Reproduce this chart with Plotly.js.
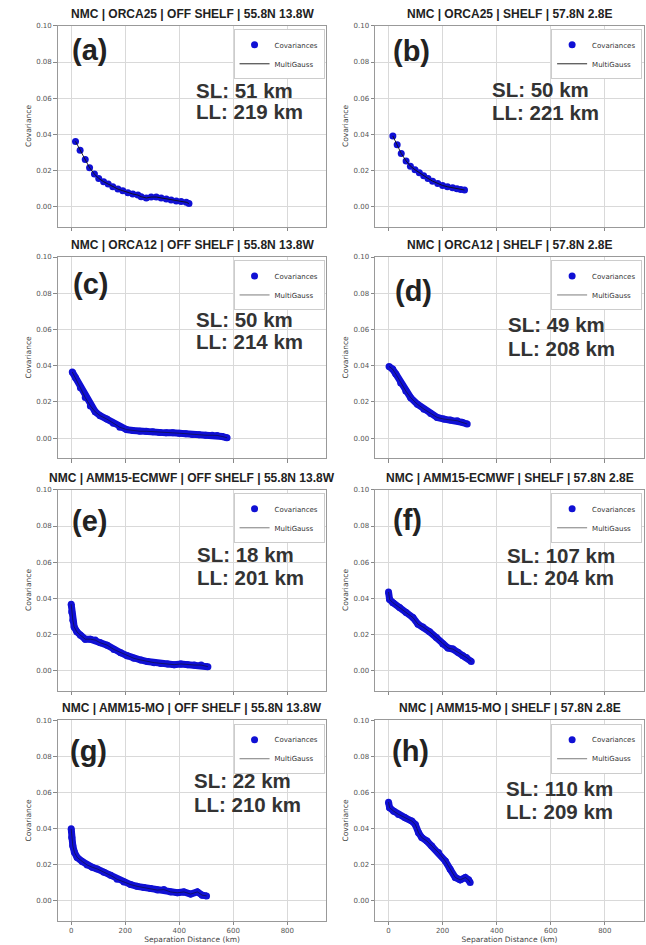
<!DOCTYPE html>
<html><head><meta charset="utf-8">
<script src="https://cdn.plot.ly/plotly-3.0.1.min.js"></script>
<style>html,body{margin:0;padding:0;background:#fff}#chart{width:646px;height:945px}</style>
</head><body><div id="chart"></div>
<script>
// ---------------- data ----------------
const panelTitles = [
  'NMC | ORCA25 | OFF SHELF | 55.8N 13.8W',
  'NMC | ORCA25 | SHELF | 57.8N 2.8E',
  'NMC | ORCA12 | OFF SHELF | 55.8N 13.8W',
  'NMC | ORCA12 | SHELF | 57.8N 2.8E',
  'NMC | AMM15-ECMWF | OFF SHELF | 55.8N 13.8W',
  'NMC | AMM15-ECMWF | SHELF | 57.8N 2.8E',
  'NMC | AMM15-MO | OFF SHELF | 55.8N 13.8W',
  'NMC | AMM15-MO | SHELF | 57.8N 2.8E'
];
const panelLabels = ['(a)','(b)','(c)','(d)','(e)','(f)','(g)','(h)'];
const slText = ['SL: 51 km','SL: 50 km','SL: 50 km','SL: 49 km','SL: 18 km','SL: 107 km','SL: 22 km','SL: 110 km'];
const llText = ['LL: 219 km','LL: 221 km','LL: 214 km','LL: 208 km','LL: 201 km','LL: 204 km','LL: 210 km','LL: 209 km'];
const xTicks = [0,200,400,600,800];
const yTicks = [0,0.02,0.04,0.06,0.08,0.10];

const distA = [16,33,52,68,86,102,120,137,154,173,191,210,228,247,259,278,296,315,333,352,370,389,407,426,436];
const covA  = [0.0361,0.0312,0.0261,0.0215,0.018,0.0156,0.0138,0.0125,0.011,0.0097,0.0088,0.0077,0.007,0.0064,0.0055,0.0048,0.0053,0.0053,0.0048,0.0042,0.0037,0.0031,0.0028,0.0024,0.0017];
const distB = [16,32,47,65,81,98,114,130,146,163,182,200,218,237,253,267,281];
const covB  = [0.0391,0.0343,0.0294,0.0253,0.0224,0.0204,0.0187,0.0171,0.0156,0.0141,0.0128,0.0117,0.011,0.0105,0.0099,0.0095,0.0092];
const distC = [4,16,34,52,71,89,107,132,156,180,205,229,254,278,302,327,351,376,400,424,449,473,498,522,540,559,577];
const covC  = [0.0365,0.0333,0.0278,0.0224,0.0178,0.0145,0.0124,0.0105,0.0082,0.006,0.0047,0.0042,0.0038,0.0038,0.0035,0.0031,0.0029,0.0029,0.0027,0.0024,0.002,0.0018,0.0016,0.0016,0.0015,0.0009,0.0002];
const distD = [2,15,27,45,64,82,107,131,156,180,205,229,254,272,291];
const covD  = [0.0396,0.0381,0.0354,0.0305,0.026,0.0223,0.0187,0.016,0.0136,0.0114,0.0105,0.01,0.0096,0.0087,0.0078];
const distE = [0,2,6,11,21,34,52,71,89,108,133,158,183,207,232,257,282,307,332,357,381,406,431,456,481,506];
const covE  = [0.0367,0.0325,0.0279,0.0242,0.0215,0.0196,0.0174,0.0174,0.0169,0.0154,0.0141,0.0117,0.0099,0.0083,0.0068,0.0059,0.005,0.0044,0.004,0.0037,0.0033,0.0037,0.0033,0.0031,0.0031,0.0022];
const distF = [0,4,16,41,65,90,109,127,152,177,201,220,238,257,275,288,306];
const covF  = [0.0435,0.0394,0.0376,0.0349,0.0321,0.0294,0.0257,0.0242,0.0215,0.0183,0.0147,0.0125,0.0119,0.0101,0.0083,0.0073,0.0051];
const distG = [0,2,6,12,22,41,59,78,96,121,146,170,195,220,244,269,294,319,343,368,393,417,442,467,485,501];
const covG  = [0.04,0.0351,0.0305,0.0269,0.0241,0.0218,0.0199,0.0186,0.0177,0.0159,0.0141,0.0119,0.0104,0.009,0.008,0.0073,0.0068,0.0059,0.0062,0.0049,0.0044,0.0049,0.0037,0.0049,0.0031,0.0027];
const distH = [0,4,19,37,62,86,99,111,123,142,160,185,210,228,247,265,284,296,302];
const covH  = [0.0548,0.0517,0.0498,0.048,0.0461,0.0443,0.0424,0.0378,0.0351,0.0332,0.0304,0.0268,0.0221,0.0175,0.0129,0.0116,0.0129,0.0116,0.0101];

// ---------------- layout config ----------------
const dists = [distA,distB,distC,distD,distE,distF,distG,distH];
const covs  = [covA,covB,covC,covD,covE,covF,covG,covH];
const dense = [false,false,true,true,true,true,true,true];
const cols = [[0.0893,0.5054],[0.5805,0.997]];
const rows = [[0.7603,0.973],[0.5153,0.7284],[0.2693,0.4820],[0.0259,0.2376]];
const labelPos = [[-6,0.0866],[10,0.0862],[0,0.085],[17,0.0813],[-4,0.083],[10,0.0835],[-12,0.0835],[6,0.083]];
const slPos = [[454,0.064,0.0527],[375,0.0648,0.0519],[455,0.0656,0.0533],[434,0.0626,0.0495],[460,0.064,0.0517],[432,0.0639,0.0514],[446,0.0667,0.0537],[428,0.0624,0.0498]];

const BLUE = '#1010d4';
const boldFont = 'Liberation Sans, Arial, sans-serif';
const tickFont = {family:'DejaVu Sans, sans-serif', size:7, color:'#555'};

const traces = [];
const layout = {
  width:646, height:945,
  margin:{l:0,r:0,t:0,b:0},
  paper_bgcolor:'#fff', plot_bgcolor:'#fff',
  showlegend:true,
  annotations:[]
};

for (let i=0;i<8;i++){
  const s = i===0 ? '' : String(i+1);
  const col = cols[i%2], row = rows[Math.floor(i/2)];
  const bottom = Math.floor(i/2)===3;
  const xa = 'x'+s, ya = 'y'+s, lg = 'legend'+s;
  if (dense[i]) {
    traces.push({x:dists[i], y:covs[i], xaxis:xa, yaxis:ya, mode:'lines',
      line:{color:BLUE, width:7}, showlegend:false, hoverinfo:'skip'});
  }
  traces.push({x:dists[i], y:covs[i], xaxis:xa, yaxis:ya, mode:'markers', name:'Covariances',
    marker:{color:BLUE, size:7}, legend:lg});
  traces.push({x:dists[i], y:covs[i], xaxis:xa, yaxis:ya, mode:'lines', name:'MultiGauss',
    line:{color:'#111', width:1}, opacity:dense[i]?0.55:0.9, legend:lg});

  layout['xaxis'+s] = {
    domain:col, anchor:ya, range:[-50,945], tickvals:xTicks,
    showticklabels:bottom, ticks:'outside', ticklen:3.5, tickcolor:'#888', tickwidth:1,
    showgrid:true, gridcolor:'#d9d9d9', gridwidth:1, zeroline:false,
    showline:true, linecolor:'#999', linewidth:1, mirror:true,
    tickfont:tickFont, fixedrange:true,
    title: bottom ? {text:'Separation Distance (km)', font:{family:'DejaVu Sans, sans-serif', size:7.5, color:'#444'}, standoff:2} : {text:''}
  };
  layout['yaxis'+s] = {
    domain:row, anchor:xa, range:[-0.011,0.1002], tickvals:yTicks, tickformat:'.2f',
    ticks:'outside', ticklen:3.5, tickcolor:'#888', tickwidth:1,
    showgrid:true, gridcolor:'#d9d9d9', gridwidth:1, zeroline:false,
    showline:true, linecolor:'#999', linewidth:1, mirror:true,
    tickfont:tickFont, fixedrange:true,
    title:{text:'Covariance', font:{family:'DejaVu Sans, sans-serif', size:7.5, color:'#444'}, standoff:3}
  };
  layout[lg] = {
    x:col[1]-0.003, xanchor:'right', y:row[1]-0.004, yanchor:'top',
    xref:'paper', yref:'paper',
    bgcolor:'#fff', bordercolor:'#ccc', borderwidth:1,
    font:{family:'DejaVu Sans, sans-serif', size:7, color:'#333'},
    itemwidth:30, tracegroupgap:0, traceorder:'normal'
  };
  layout.annotations.push({
    xref:'paper', yref:'paper', x:(col[0]+col[1])/2, y:row[1], yanchor:'bottom', xanchor:'center',
    yshift:3, showarrow:false, text:'<b>'+panelTitles[i]+'</b>',
    font:{family:boldFont, size:12, color:'#222'}
  });
  layout.annotations.push({
    xref:xa, yref:ya, x:labelPos[i][0], y:labelPos[i][1], xanchor:'left', yanchor:'middle',
    showarrow:false, text:'<b>'+panelLabels[i]+'</b>',
    font:{family:boldFont, size:29, color:'#222'}
  });
  layout.annotations.push({
    xref:xa, yref:ya, x:slPos[i][0], y:slPos[i][1], xanchor:'left', yanchor:'middle',
    showarrow:false, text:'<b>'+slText[i]+'</b>',
    font:{family:boldFont, size:20.5, color:'#333'}
  });
  layout.annotations.push({
    xref:xa, yref:ya, x:slPos[i][0], y:slPos[i][2], xanchor:'left', yanchor:'middle',
    showarrow:false, text:'<b>'+llText[i]+'</b>',
    font:{family:boldFont, size:20.5, color:'#333'}
  });
}

Plotly.newPlot('chart', traces, layout, {displayModeBar:false, staticPlot:true});
</script>
</body></html>
